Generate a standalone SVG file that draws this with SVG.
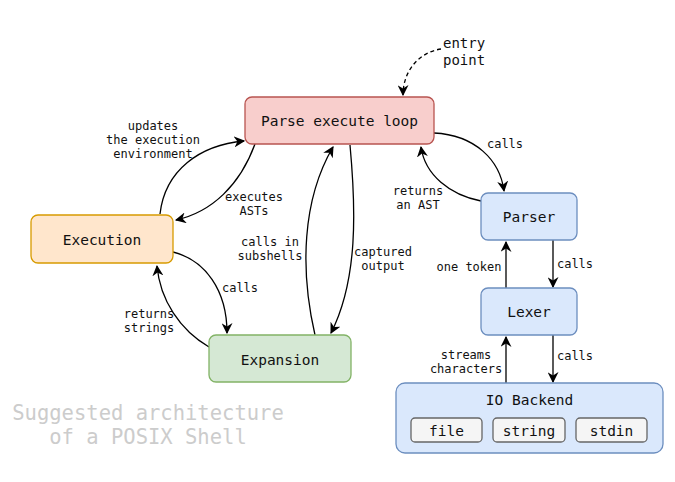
<svg xmlns="http://www.w3.org/2000/svg" width="675" height="482" viewBox="0 0 675 482">
<style>
text{font-family:"DejaVu Sans Mono","Liberation Mono",monospace;fill:#111}
.n{font-size:14.5px;text-anchor:middle;dominant-baseline:central}
.l{font-size:12px;text-anchor:middle}
.e{fill:none;stroke:#000;stroke-width:1.3;marker-end:url(#a)}
.d{stroke-dasharray:4 3}
.t{font-size:20.5px;fill:#cccccc;text-anchor:middle}
</style>
<defs>
<marker id="a" viewBox="0 0 10 10" refX="9" refY="5" markerWidth="11" markerHeight="11" markerUnits="userSpaceOnUse" orient="auto">
<path d="M0,0 L10,5 L0,10 L3,5 z" fill="#000"/>
</marker>
</defs>
<g id="connectors">
<path class="e d" d="M441 49 C420 52 403 70 403 95"/>
<path class="e" d="M255 144 C240 185 212 212 176 220"/>
<path class="e" d="M160 214 C165 170 200 145 244 141"/>
<path class="e" d="M173 252 C205 260 227 290 227 333"/>
<path class="e" d="M209 347 C180 330 160 300 157 266"/>
<path class="e" d="M315 335 C300 270 302 200 333 147"/>
<path class="e" d="M350 145 C356 210 358 280 331 333"/>
<path class="e" d="M434 133 C475 135 500 160 504 191"/>
<path class="e" d="M481 201 C450 195 425 175 421 147"/>
<path class="e" d="M506 288 L506 242"/>
<path class="e" d="M553 240 L553 287"/>
<path class="e" d="M506 383 L506 337"/>
<path class="e" d="M553 335 L553 382"/>
<text x="443" y="48" style="font-size:14px">entry</text>
<text x="443" y="65" style="font-size:14px">point</text>
<text class="l" x="153" y="130">updates</text>
<text class="l" x="153" y="144">the execution</text>
<text class="l" x="153" y="158">environment</text>
<text class="l" x="254" y="201">executes</text>
<text class="l" x="254" y="215">ASTs</text>
<text class="l" x="270" y="246">calls in</text>
<text class="l" x="270" y="260">subshells</text>
<text class="l" x="383" y="256">captured</text>
<text class="l" x="383" y="270">output</text>
<text class="l" x="505" y="148">calls</text>
<text class="l" x="418" y="195">returns</text>
<text class="l" x="418" y="209">an AST</text>
<text class="l" x="469" y="271">one token</text>
<text class="l" x="575" y="268">calls</text>
<text class="l" x="466" y="359">streams</text>
<text class="l" x="466" y="373">characters</text>
<text class="l" x="575" y="360">calls</text>
<text class="l" x="240" y="292">calls</text>
<text class="l" x="149" y="318">returns</text>
<text class="l" x="149" y="332">strings</text>
</g>
<g id="parse-execute-loop">
<rect x="245" y="97" width="189" height="47" rx="7" fill="#f8cecc" stroke="#b85450" stroke-width="1.3"/>
<text class="n" x="339.5" y="121">Parse execute loop</text>
</g>
<g id="execution">
<rect x="31" y="215" width="142" height="48" rx="7" fill="#ffe6cc" stroke="#d79b00" stroke-width="1.3"/>
<text class="n" x="102" y="240">Execution</text>
</g>
<g id="expansion">
<rect x="209" y="335" width="142" height="47" rx="7" fill="#d5e8d4" stroke="#82b366" stroke-width="1.3"/>
<text class="n" x="280" y="359.5">Expansion</text>
</g>
<g id="parser">
<rect x="481" y="193" width="96" height="47" rx="7" fill="#dae8fc" stroke="#6c8ebf" stroke-width="1.3"/>
<text class="n" x="529" y="217">Parser</text>
</g>
<g id="lexer">
<rect x="481" y="288" width="96" height="47" rx="7" fill="#dae8fc" stroke="#6c8ebf" stroke-width="1.3"/>
<text class="n" x="529" y="312">Lexer</text>
</g>
<g id="io-backend">
<rect x="396" y="383" width="267" height="70" rx="9" fill="#dae8fc" stroke="#6c8ebf" stroke-width="1.3"/>
<text class="n" x="529.5" y="400">IO Backend</text>
<rect x="411" y="418" width="71" height="24" rx="4" fill="#f5f5f5" stroke="#666666" stroke-width="1.3"/>
<text class="n" x="446.5" y="431">file</text>
<rect x="493" y="418" width="72" height="24" rx="4" fill="#f5f5f5" stroke="#666666" stroke-width="1.3"/>
<text class="n" x="529" y="431">string</text>
<rect x="576" y="418" width="71" height="24" rx="4" fill="#f5f5f5" stroke="#666666" stroke-width="1.3"/>
<text class="n" x="611.5" y="431">stdin</text>
</g>
<g id="title">
<text class="t" x="148" y="420">Suggested architecture</text>
<text class="t" x="148" y="444">of a POSIX Shell</text>
</g>
</svg>
